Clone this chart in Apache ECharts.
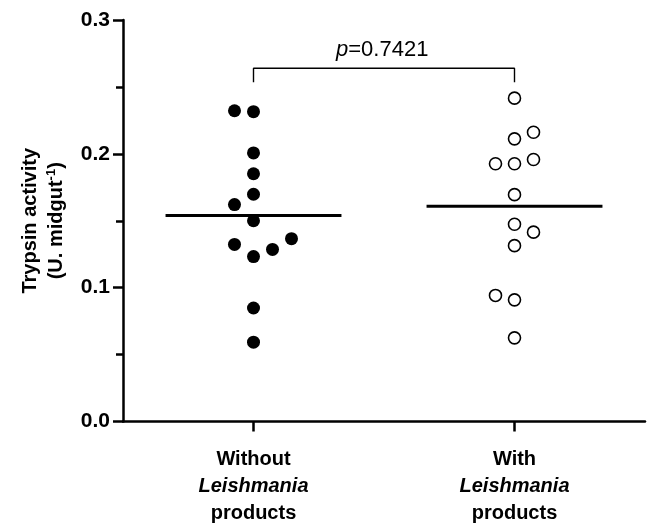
<!DOCTYPE html>
<html>
<head>
<meta charset="utf-8">
<script src="https://cdn.jsdelivr.net/npm/echarts@6/dist/echarts.min.js"></script>
<style>html,body{margin:0;padding:0;background:#fff}#c{width:650px;height:523px}</style>
</head>
<body>
<div id="c"></div>
<script>
// Data
var categories = ['Without Leishmania products', 'With Leishmania products'];
var withoutValues = [0.2322, 0.2315, 0.2007, 0.1851, 0.1698, 0.1621, 0.1500, 0.1323, 0.1232, 0.1286, 0.1366, 0.0848, 0.0593];
var withoutSlots  = [-1, 0, 0, 0, 0, -1, 0, -1, 0, 1, 2, 0, 0];
var withValues = [0.2416, 0.2112, 0.2161, 0.1926, 0.1926, 0.1958, 0.1695, 0.1474, 0.1415, 0.1314, 0.0942, 0.0909, 0.0625];
var withSlots  = [0, 0, 1, -1, 0, 1, 0, 0, 1, 0, -1, 0, 0];
var means = [0.1539, 0.1608];
var pValueText = '0.7421';
var yTicks = [0.0, 0.1, 0.2, 0.3];

var centers = [0.5, 1.5];
var slotWidth = 0.0728;
var halfLine = 0.337;

function pts(vals, slots, c) {
  return vals.map(function (v, i) { return [c + slots[i] * slotWidth, v]; });
}

var font = 'Liberation Sans, Arial, Helvetica, sans-serif';
var chart = echarts.init(document.getElementById('c'), null, {renderer: 'canvas'});
chart.setOption({
  animation: false,
  backgroundColor: '#fff',
  grid: {left: 123, right: 5, top: 20, bottom: 99, containLabel: false},
  xAxis: {
    type: 'value', min: 0, max: 2,
    axisLine: {show: true, onZero: false, lineStyle: {color: '#000', width: 2.5}},
    axisTick: {show: true, customValues: centers, length: 10, lineStyle: {color: '#000', width: 2.5}},
    splitLine: {show: false},
    axisLabel: {
      customValues: centers, margin: 24,
      formatter: function (v) {
        var idx = Math.abs(v - 0.5) < 0.01 ? 0 : 1;
        var parts = categories[idx].split(' ');
        return '{b|' + parts[0] + '}\n{i|' + parts[1] + '}\n{b|' + parts[2] + '}';
      },
      rich: {
        b: {fontFamily: font, fontSize: 20, fontWeight: 'bold', color: '#000', lineHeight: 27, align: 'center'},
        i: {fontFamily: font, fontSize: 20, fontWeight: 'bold', fontStyle: 'italic', color: '#000', lineHeight: 27, align: 'center'}
      }
    }
  },
  yAxis: {
    type: 'value', min: 0, max: 0.3, interval: 0.1,
    axisLine: {show: true, lineStyle: {color: '#000', width: 2.5}},
    axisTick: {show: true, length: 10, lineStyle: {color: '#000', width: 2.5}},
    minorTick: {show: true, splitNumber: 2, length: 7, lineStyle: {color: '#000', width: 2.5}},
    splitLine: {show: false},
    axisLabel: {
      margin: 13, color: '#000', fontFamily: font, fontSize: 21, fontWeight: 'bold',
      formatter: function (v) { return v.toFixed(1); }
    },
    name: '{a|Trypsin activity}\n{a|(U. midgut}{s|-1}{a|)}',
    nameLocation: 'middle', nameRotate: 90, nameGap: 54,
    nameTextStyle: {
      rich: {
        a: {fontFamily: font, fontSize: 20, fontWeight: 'bold', color: '#000', lineHeight: 26},
        s: {fontFamily: font, fontSize: 13, fontWeight: 'bold', color: '#000', lineHeight: 26, verticalAlign: 'top', padding: [2, 0, 0, 0]}
      }
    }
  },
  graphic: [{
    type: 'text', left: 336, top: 39, z: 10,
    style: {
      text: '{p|p}{n|=' + pValueText + '}',
      rich: {
        p: {fontFamily: font, fontSize: 22, fontStyle: 'italic', fill: '#000'},
        n: {fontFamily: font, fontSize: 22, fill: '#000'}
      }
    }
  }],
  series: [
    {
      type: 'scatter', data: pts(withoutValues, withoutSlots, centers[0]),
      symbol: 'circle', symbolSize: 13,
      itemStyle: {color: '#000', borderWidth: 0, opacity: 1}
    },
    {
      type: 'scatter', data: pts(withValues, withSlots, centers[1]),
      symbol: 'circle', symbolSize: 12,
      itemStyle: {color: '#fff', borderColor: '#000', borderWidth: 1.6, opacity: 1}
    },
    {
      type: 'line', data: [[centers[0] - halfLine, means[0]], [centers[0] + halfLine, means[0]]],
      symbol: 'none', lineStyle: {color: '#000', width: 3}, z: 3
    },
    {
      type: 'line', data: [[centers[1] - halfLine, means[1]], [centers[1] + halfLine, means[1]]],
      symbol: 'none', lineStyle: {color: '#000', width: 3}, z: 3
    },
    {
      type: 'line', data: [[centers[0], 0.2535], [centers[0], 0.2639], [centers[1], 0.2639], [centers[1], 0.2535]],
      symbol: 'none', lineStyle: {color: '#000', width: 1.4}
    }
  ]
});
</script>
</body>
</html>
